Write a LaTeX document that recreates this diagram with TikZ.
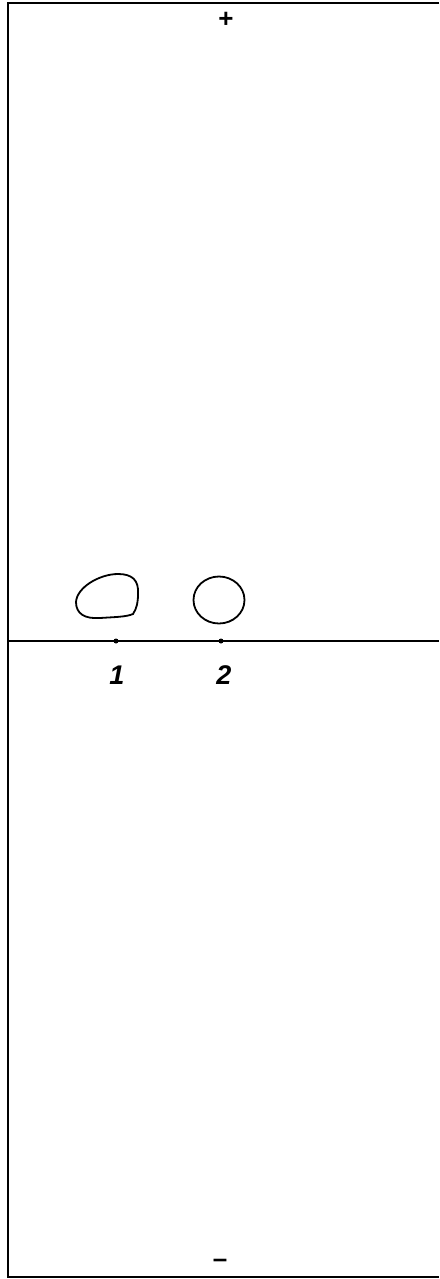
\documentclass[tikz,border=0pt]{standalone}
\usepackage{fontspec}
\setmainfont{Liberation Sans}
\begin{document}
\begin{tikzpicture}[x=1pt,y=-1pt,
  frameline/.style={line width=2pt,black},
  spot/.style={line width=1.8pt,black},
  lbl/.style={font=\fontsize{27}{27}\selectfont\bfseries\itshape},
  sign/.style={font=\fontsize{26}{26}\selectfont\bfseries},
  dotmark/.style={circle,fill=black,inner sep=0pt,minimum size=5pt}]
\useasboundingbox (0,0) rectangle (439,1279);
% frame
\coordinate (tr) at (439,3);
\coordinate (tl) at (8,3);
\coordinate (bl) at (8,1277);
\coordinate (br) at (439,1277);
\draw[frameline] (tr) -- (tl) -- (bl) -- (br);
% start line
\coordinate (sl) at (8,641);
\coordinate (sr) at (439,641);
\draw[line width=1.8pt] (sl) -- (sr);
\node[dotmark] (d1) at (116,641) {};
\node[dotmark] (d2) at (221,641) {};
\node[lbl] (l1) at (117,675) {1};
\node[lbl] (l2) at (224,675) {2};
% signs
\node[sign] (plus) at (226,20) {+};
\node[sign] (minus) at (220,1263) {--};
% spots
\draw[spot] (138,594) .. controls (139,580) and (132,574) .. (118,574)
  .. controls (100,574) and (77,587) .. (76,602)
  .. controls (76,614) and (85,619) .. (100,618)
  .. controls (115,617) and (126,617) .. (133,614)
  .. controls (137,608) and (138,602) .. (138,594) -- cycle;
\draw[spot] (219,600) ellipse [x radius=25.5, y radius=23.5];
\end{tikzpicture}
\end{document}
